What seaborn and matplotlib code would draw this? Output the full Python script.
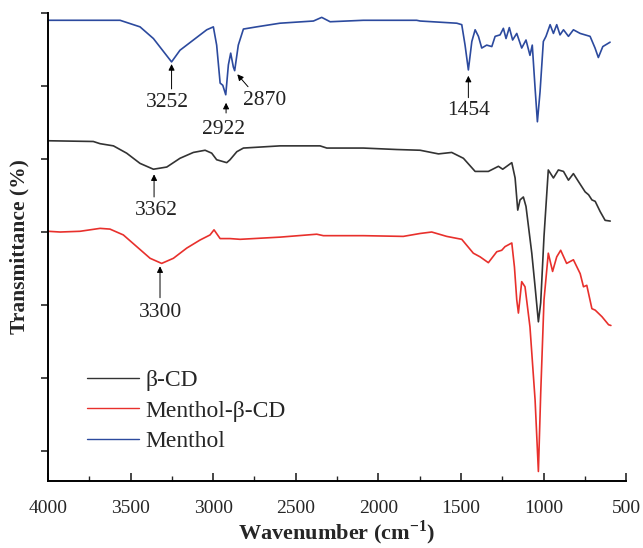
import numpy as np
import pandas as pd
import seaborn as sns
import matplotlib.pyplot as plt
from matplotlib.ticker import MultipleLocator

# FTIR spectra (wavenumber in cm-1, transmittance in stacked arbitrary units)
menthol_wn = [4000, 3564, 3443, 3362, 3252, 3201, 3120, 3039, 2999, 2979, 2958, 2942, 2924,
              2908, 2894, 2878, 2870, 2848, 2817, 2737, 2596, 2393, 2343, 2292, 2091, 1768,
              1747, 1525, 1495, 1475, 1455, 1434, 1414, 1394, 1374, 1344, 1313, 1293, 1263,
              1243, 1227, 1207, 1187, 1162, 1132, 1106, 1082, 1068, 1051, 1037, 1021, 1001,
              985, 960, 940, 920, 900, 879, 849, 819, 778, 718, 688, 668, 641, 597]
menthol_t = [59.0, 59.0, 58.1, 56.5, 53.3, 54.9, 56.3, 57.7, 58.1, 55.6, 50.4, 50.1, 48.8,
             52.9, 54.5, 52.6, 52.1, 55.6, 57.8, 58.1, 58.6, 58.9, 59.4, 58.8, 59.0, 59.0,
             58.9, 58.6, 58.4, 55.6, 52.2, 56.1, 57.7, 56.8, 55.2, 55.6, 55.4, 56.8, 57.0,
             57.9, 56.5, 58.0, 56.3, 57.2, 55.2, 56.3, 54.2, 55.6, 49.7, 45.1, 49.2, 56.1,
             56.8, 58.4, 57.2, 58.4, 57.0, 57.7, 56.8, 57.7, 57.2, 56.8, 55.2, 53.9, 55.4, 56.0]

bcd_wn = [4000, 3726, 3685, 3604, 3524, 3443, 3362, 3281, 3201, 3120, 3049, 3009, 2979,
          2918, 2898, 2857, 2817, 2595, 2353, 2312, 2091, 1889, 1747, 1636, 1556, 1485,
          1414, 1334, 1273, 1247, 1192, 1172, 1156, 1142, 1122, 1106, 1071, 1051, 1031,
          1017, 997, 971, 940, 910, 879, 849, 819, 788, 748, 727, 707, 687, 657, 627, 596]
bcd_t = [42.5, 42.4, 42.1, 41.8, 40.8, 39.4, 38.6, 38.9, 40.1, 40.9, 41.2, 40.8, 39.9,
         39.5, 39.9, 41.0, 41.5, 41.8, 41.8, 41.5, 41.5, 41.3, 41.2, 40.7, 40.9, 40.1,
         38.3, 38.3, 39.0, 38.6, 39.5, 37.4, 33.0, 34.4, 34.8, 33.5, 27.1, 22.5, 17.7,
         20.3, 29.4, 38.5, 37.4, 38.5, 38.3, 37.1, 38.0, 36.9, 35.5, 35.1, 34.4, 34.2,
         32.8, 31.6, 31.5]

complex_wn = [4000, 3927, 3806, 3685, 3625, 3544, 3463, 3382, 3312, 3241, 3160, 3080, 3019,
              2995, 2958, 2898, 2837, 2595, 2373, 2333, 2091, 1849, 1747, 1677, 1586, 1495,
              1425, 1384, 1334, 1283, 1253, 1233, 1192, 1176, 1162, 1152, 1132, 1112, 1082,
              1051, 1031, 1017, 997, 971, 945, 920, 896, 860, 819, 778, 758, 738, 707, 687,
              646, 606, 592]
complex_t = [30.1, 30.0, 30.1, 30.5, 30.4, 29.6, 28.0, 26.4, 25.7, 26.4, 27.8, 28.9, 29.6,
             30.3, 29.1, 29.1, 29.0, 29.3, 29.7, 29.5, 29.5, 29.4, 29.8, 30.0, 29.4, 29.0,
             27.1, 26.6, 25.8, 27.3, 27.5, 28.0, 28.5, 25.2, 20.7, 18.9, 23.2, 22.5, 17.0,
             7.0, -2.8, 7.9, 20.7, 27.1, 24.6, 26.6, 27.5, 25.7, 26.2, 24.3, 22.5, 22.7,
             19.5, 19.3, 18.4, 17.3, 17.2]

names = ['β-CD', 'Menthol-β-CD', 'Menthol']
colors = ['#333333', '#e8302c', '#2c4a9e']

# peak labels: (label, arrow x, arrow tip y, arrow tail x, arrow tail y, text x, text y)
peaks = [('3252', 3252, 53.0, 3252, 49.6, 3275, 47.8),
         ('2922', 2922, 47.7, 2922, 46.3, 2935, 44.1),
         ('2870', 2854, 51.6, 2789, 49.9, 2686, 48.0),
         ('1454', 1455, 51.4, 1455, 48.4, 1452, 46.6),
         ('3362', 3358, 37.9, 3358, 34.8, 3345, 33.0),
         ('3300', 3322, 25.3, 3322, 21.0, 3322, 19.0)]

df = pd.concat([
    pd.DataFrame({'wn': bcd_wn, 't': bcd_t, 'sample': names[0]}),
    pd.DataFrame({'wn': complex_wn, 't': complex_t, 'sample': names[1]}),
    pd.DataFrame({'wn': menthol_wn, 't': menthol_t, 'sample': names[2]}),
])

sns.set_theme(style='ticks')
plt.rcParams['font.family'] = ['Liberation Serif', 'DejaVu Serif']
plt.rcParams['mathtext.fontset'] = 'custom'
plt.rcParams['mathtext.rm'] = 'Liberation Serif'
plt.rcParams['mathtext.bf'] = 'Liberation Serif:bold'

fig = plt.figure(figsize=(6.43, 5.48), dpi=100)
ax = fig.add_axes([0.0747, 0.1223, 0.899, 0.854])

sns.lineplot(data=df, x='wn', y='t', hue='sample', hue_order=names,
             palette=colors, estimator=None, sort=False, lw=1.2, ax=ax)

for lab, ax_x, tip_y, tx, ty, lx, ly in peaks:
    ax.annotate('', xy=(ax_x, tip_y), xytext=(tx, ty),
                arrowprops=dict(arrowstyle='-|>', color='black', lw=0.7,
                                mutation_scale=9, shrinkA=0, shrinkB=0))
    ax.text(lx, ly, lab, ha='center', va='center', fontsize=15.5, color='#222222')

ax.set_xlim(4000, 500)
ax.set_ylim(-4.1, 60)
ax.xaxis.set_major_locator(MultipleLocator(500))
ax.xaxis.set_minor_locator(MultipleLocator(250))
ax.set_yticks(np.arange(0, 61, 10))
ax.set_yticklabels([])
ax.tick_params(axis='x', which='major', direction='in', length=6, width=1.2,
               labelsize=14, pad=14)
ax.tick_params(axis='x', which='minor', direction='in', length=3.5, width=1.0)
ax.tick_params(axis='y', direction='out', length=5, width=1.2)
for s in ['left', 'bottom']:
    ax.spines[s].set_linewidth(1.4)
    ax.spines[s].set_color('black')
sns.despine(ax=ax)

ax.set_xlabel(r'Wavenumber (cm$^{\mathbf{-1}}$)', fontsize=16, fontweight='bold', labelpad=1)
ax.set_ylabel('Transmittance (%)', fontsize=15.5, fontweight='bold', labelpad=5)

leg = ax.legend(loc='lower left', bbox_to_anchor=(0.03, 0.016), frameon=False,
                fontsize=17, handlelength=2.2, handletextpad=0.3, labelspacing=0.38)
for line in leg.get_lines():
    line.set_linewidth(1.0)

fig.savefig('out.png', dpi=100)
